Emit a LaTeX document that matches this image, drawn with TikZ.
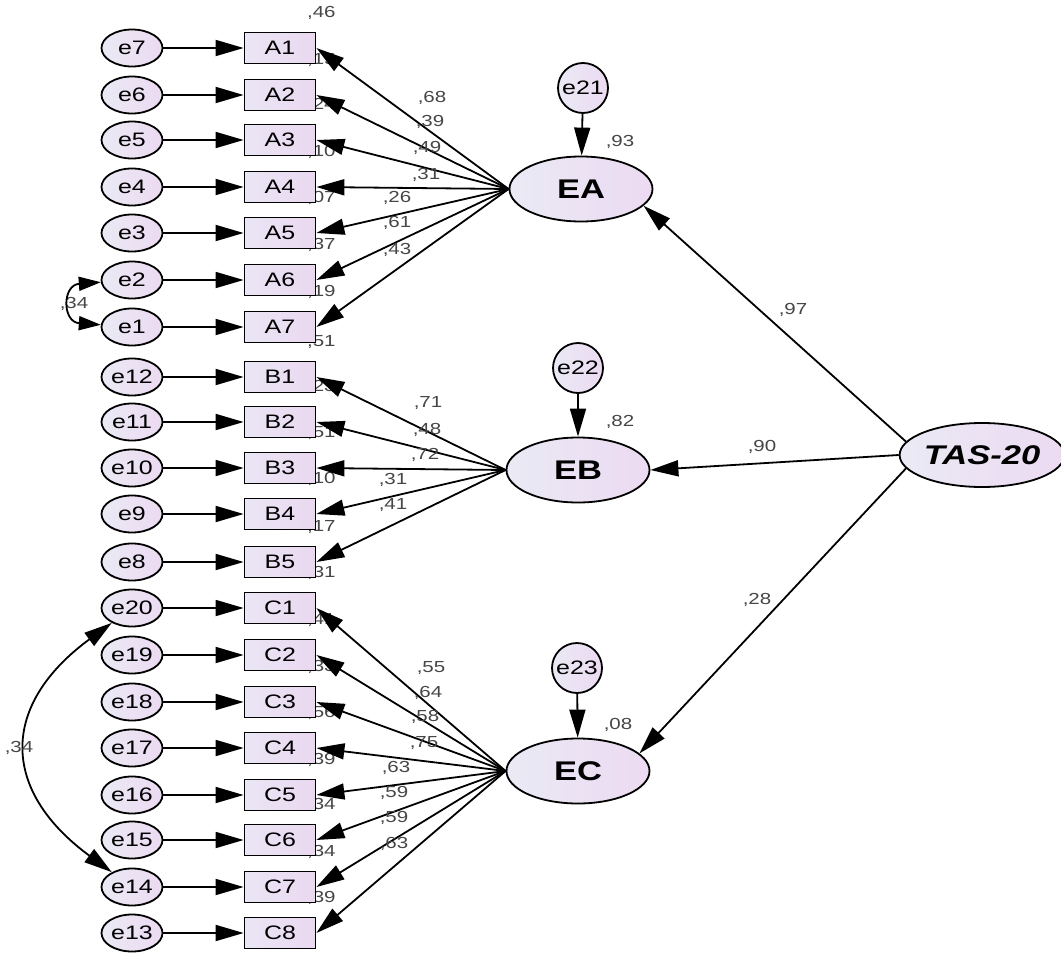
\documentclass[tikz,border=0pt]{standalone}
\usepackage{fontspec}
\setmainfont{Liberation Sans}[FakeStretch=1.28]
\usetikzlibrary{arrows.meta,shapes.geometric,backgrounds}
\definecolor{lavL}{RGB}{234,234,244}
\definecolor{lavR}{RGB}{236,218,242}
\definecolor{boxL}{RGB}{234,230,245}
\definecolor{boxR}{RGB}{234,216,240}
\definecolor{coefgray}{RGB}{70,70,70}
\tikzset{
  headA/.tip={Triangle[length=28pt,width=16pt]},
  headS/.tip={Triangle[length=22pt,width=14pt]},
  link/.style={draw=black,line width=1.8pt,-headA},
  cov/.style={draw=black,line width=1.8pt,headA-headA},
  smallcov/.style={draw=black,line width=1.8pt,headS-headS},
  errvar/.style={ellipse,draw=black,line width=1.8pt,minimum width=61pt,
    minimum height=37pt,inner sep=0pt,left color=lavL,right color=lavR,
    font=\fontsize{19.5}{19.5}\selectfont},
  disturb/.style={circle,draw=black,line width=1.8pt,minimum size=50pt,
    inner sep=0pt,left color=lavL,right color=lavR,
    font=\fontsize{19.5}{19.5}\selectfont},
  item/.style={rectangle,draw=black,line width=1.8pt,minimum width=71pt,
    minimum height=31pt,inner sep=0pt,left color=boxL,right color=boxR,
    font=\fontsize{19.5}{19.5}\selectfont},
  factor/.style={ellipse,draw=black,line width=1.8pt,minimum width=143pt,
    minimum height=65pt,inner sep=0pt,left color=lavL,right color=lavR,
    font=\bfseries\fontsize{27}{27}\selectfont},
  higher/.style={factor,minimum width=157pt,minimum height=64pt,
    font=\bfseries\itshape\fontsize{27}{27}\selectfont},
  coef/.style={inner sep=0pt,text=coefgray,font=\fontsize{16}{16}\selectfont}
}
\begin{document}
\begin{tikzpicture}[x=1pt,y=-1pt]
\useasboundingbox (0,0) rectangle (1061,953);
\begin{scope}[on background layer]
  \fill[white] (0,0) rectangle (1061,953);
\end{scope}

% error terms and observed items
\foreach \e/\it/\y in {e7/A1/48,e6/A2/95,e5/A3/140,e4/A4/187,e3/A5/233,e2/A6/280,e1/A7/327,
    e12/B1/377,e11/B2/422,e10/B3/468,e9/B4/514,e8/B5/562,
    e20/C1/608,e19/C2/655,e18/C3/702,e17/C4/748,e16/C5/795,e15/C6/840,e14/C7/887,e13/C8/933}{
  \node[errvar] (\e) at (132,\y) {\e};
  \node[item] (\it) at (280,\y) {\it};
  \draw[link] (\e) -- (\it);
}

% squared multiple correlations, tucked behind the boxes
\begin{scope}[on background layer]
\foreach \it/\v in {A1/46,A2/15,A3/24,A4/10,A5/07,A6/37,A7/19,
    B1/51,B2/23,B3/51,B4/10,B5/17,
    C1/31,C2/41,C3/33,C4/56,C5/39,C6/34,C7/34,C8/39}{
  \path (\it.north east) ++(5,-18.5) node[coef] (r\it) {,\v};
}
\node[coef] (cov12) at (74,304) {,34};
\end{scope}

% first-order factors and their disturbances
\node[factor] (EA) at (581,189) {EA};
\node[factor] (EB) at (578,470) {EB};
\node[factor] (EC) at (578,771) {EC};
\node[disturb] (e21) at (583,88) {e21};
\node[disturb] (e22) at (578,368) {e22};
\node[disturb] (e23) at (577,668) {e23};
\draw[link] (e21) -- (EA);
\draw[link] (e22) -- (EB);
\draw[link] (e23) -- (EC);
\node[coef] (rEA) at (620,142) {,93};
\node[coef] (rEB) at (620,422) {,82};
\node[coef] (rEC) at (618,725) {,08};

% second-order factor
\node[higher] (TAS) at (982,455) {TAS-20};
\draw[link] (TAS.170) -- (EA.-15);
\draw[link] (TAS.west) -- (EB.east);
\draw[link] (TAS.190) -- (EC.16);
\node[coef] (gEA) at (793,310) {,97};
\node[coef] (gEB) at (762,447) {,90};
\node[coef] (gEC) at (757,600) {,28};

% factor loadings
\foreach \it in {A1,A2,A3,A4,A5,A6,A7}{\draw[link] (EA.west) -- (\it.east);}
\foreach \it in {B1,B2,B3,B4,B5}{\draw[link] (EB.west) -- (\it.east);}
\foreach \it in {C1,C2,C3,C4,C5,C6,C7,C8}{\draw[link] (EC.west) -- (\it.east);}

\foreach \it/\v/\x/\y in {A1/68/432/98,A2/39/430/122,A3/49/427/148,A4/31/426/175,
    A5/26/397/198,A6/61/397/223,A7/43/397/250,
    B1/71/428/403,B2/48/427/430,B3/72/425/455,B4/31/393/480,B5/41/393/505,
    C1/55/431/668,C2/64/428/693,C3/58/425/717,C4/75/424/743,
    C5/63/396/768,C6/59/394/793,C7/59/394/818,C8/63/394/844}{
  \node[coef] (w\it) at (\x,\y) {,\v};
}

% error covariances
\draw[smallcov] (e2) .. controls (62,285) and (62,322) .. (e1);
\draw[cov] (e20) .. controls (0,705) and (0,790) .. (e14);
\node[coef] (cov2014) at (19,748) {,34};
\end{tikzpicture}
\end{document}
